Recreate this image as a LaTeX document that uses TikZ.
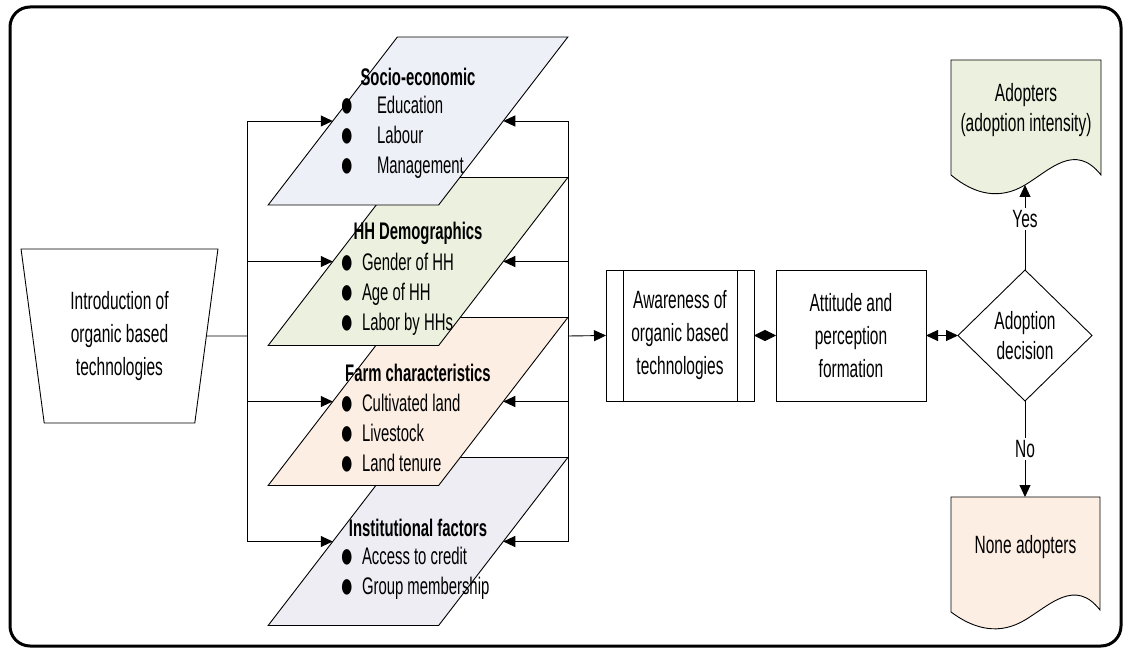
\documentclass[tikz,border=0pt]{standalone}
\usepackage{fontspec}
\setmainfont{Liberation Sans}[FakeStretch=0.62]
\usetikzlibrary{shapes.geometric,arrows.meta}

\definecolor{socioblue}{HTML}{EDF0F7}
\definecolor{hhgreen}{HTML}{EBF1DE}
\definecolor{farmpeach}{HTML}{FDEEE4}
\definecolor{instgray}{HTML}{EFEDF4}

\newcommand{\dotitem}[2][22pt]{\makebox[#1][l]{\smash{\raisebox{-3pt}{\fontsize{36}{30}\selectfont ●}}}#2}

\begin{document}
\begin{tikzpicture}[x=1pt,y=-1pt,line width=0.9pt,>={Triangle[length=12pt,width=11pt]},
		every node/.style={font=\fontsize{25}{33}\selectfont,inner sep=0pt,outer sep=0pt},
		para/.style={trapezium,trapezium stretches=true,trapezium left angle=71.3,trapezium right angle=108.7,minimum width=300pt,minimum height=168pt,inner sep=2pt,draw},
		ptitle/.style={font=\fontsize{24}{30}\selectfont\bfseries},
		plist/.style={font=\fontsize{24}{30}\selectfont,align=left,anchor=west},
		pbox/.style={rectangle,draw,minimum width=150pt,minimum height=131pt,align=center},
		lbl/.style={fill=white,inner sep=2pt}]
	\useasboundingbox (0,0) rectangle (1128,652);
	\draw[line width=3pt,rounded corners=20pt] (10,7) rectangle (1121,646);

	\node[trapezium,trapezium stretches=true,trapezium left angle=99.6,trapezium right angle=99.6,minimum width=197pt,minimum height=174pt,draw,align=center] (intro) at (119.5,336) {Introduction of\\organic based\\technologies};

	\node[para,fill=instgray] (inst) at (418,541.5) {\strut};
	\node[ptitle] (insttitle) at (418,528) {Institutional factors};
	\node[plist] (institems) at (340,573) {\dotitem{Access to credit}\\\dotitem{Group membership}};

	\node[para,fill=farmpeach] (farm) at (418,401.5) {\strut};
	\node[ptitle] (farmtitle) at (418,373) {Farm characteristics};
	\node[plist] (farmitems) at (340,433) {\dotitem{Cultivated land}\\\dotitem{Livestock}\\\dotitem{Land tenure}};

	\node[para,fill=hhgreen] (hh) at (418,261.5) {\strut};
	\node[ptitle] (hhtitle) at (418,233) {HH Demographics};
	\node[plist] (hhitems) at (340,294) {\dotitem{Gender of HH}\\\dotitem{Age of HH}\\\dotitem{Labor by HHs}};

	\node[para,fill=socioblue] (socio) at (418,121) {\strut};
	\node[ptitle] (sociotitle) at (418,77) {Socio-economic};
	\node[plist] (socioitems) at (340,137) {\dotitem[37pt]{Education}\\\dotitem[37pt]{Labour}\\\dotitem[37pt]{Management}};

	\coordinate (lbus) at (247,336);
	\draw (intro.east) -- (lbus);
	\foreach \p in {socio,hh,farm,inst}
		\draw[->] (lbus) |- (\p.west);

	\node[pbox,minimum width=148pt] (aware) at (680,335.5) {Awareness of\\organic based\\technologies};
	\draw ([xshift=17pt]aware.north west) -- ([xshift=17pt]aware.south west)
		([xshift=-17pt]aware.north east) -- ([xshift=-17pt]aware.south east);
	\node[pbox] (attitude) at (851,335.5) {Attitude and\\perception\\formation};
	\node[diamond,draw,minimum width=134pt,minimum height=131pt,align=center,font=\fontsize{25}{30}\selectfont] (decide) at (1025,335.5) {Adoption\\decision};

	\coordinate (rbus) at (568,336);
	\foreach \p in {socio,hh,farm,inst}
		\draw[->] (rbus) |- (\p.east);
	\draw[->] (rbus) -- (aware.west);
	\draw[<->,>={Triangle[length=11pt,width=11pt]}] (aware) -- (attitude);
	\draw[<->] (attitude) -- (decide);

	\filldraw[fill=hhgreen] (951,60) -- (1101,60) -- (1101,175)
		.. controls (1075,142) and (1050,170) .. (1025,185)
		.. controls (1000,200) and (975,195) .. (951,175) -- cycle;
	\node[align=center,font=\fontsize{25}{30}\selectfont] (adopt) at (1026,110) {Adopters\\(adoption intensity)};
	\coordinate (adoptwave) at (1025,185);
	\draw[->] (decide.north) -- node[lbl,pos=0.6] (yes) {Yes} (adoptwave);

	\filldraw[fill=farmpeach] (951,497) -- (1100,497) -- (1100,610)
		.. controls (1075,578) and (1050,605) .. (1025,620)
		.. controls (1000,635) and (975,630) .. (951,612) -- cycle;
	\node (nonadopt) at (1025.5,547) {None adopters};
	\coordinate (nonadopttop) at (1025,497);
	\draw[->] (decide.south) -- node[lbl] (no) {No} (nonadopttop);
\end{tikzpicture}
\end{document}
